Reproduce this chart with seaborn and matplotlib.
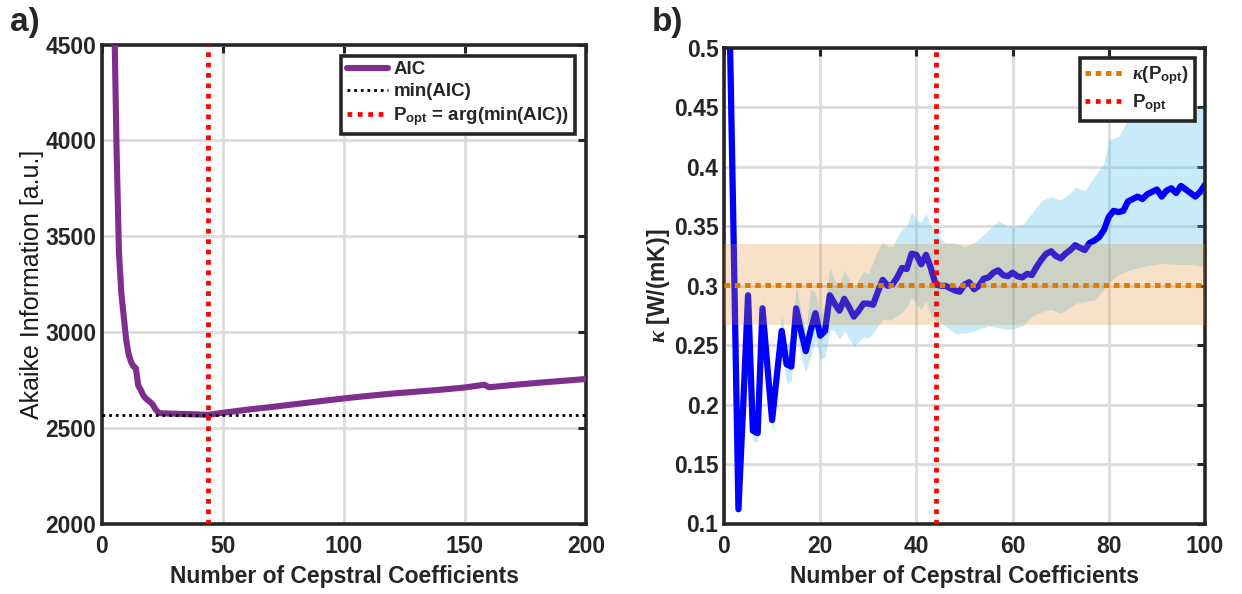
import numpy as np
import pandas as pd
import matplotlib
matplotlib.use("Agg")
import matplotlib.pyplot as plt
import seaborn as sns

# ---------------- data ----------------
aic_p = [5, 6, 7, 8, 9, 10, 11, 12, 13, 14, 15, 16, 17, 18, 19, 20, 21, 22, 23, 24,
         25, 30, 35, 40, 44, 50, 60, 70, 80, 90, 100, 110, 120, 130, 140, 150, 158,
         160, 170, 180, 190, 200]
aic_val = [4700, 3965, 3420, 3200, 3080, 2960, 2885, 2845, 2822, 2812, 2720, 2700,
           2672, 2656, 2645, 2635, 2622, 2600, 2585, 2578, 2577, 2575, 2573, 2571,
           2569, 2580, 2596, 2610, 2625, 2640, 2655, 2668, 2680, 2690, 2700, 2712,
           2726, 2713, 2725, 2736, 2746, 2756]

p_kappa = list(range(1, 101))
kappa = [0.560, 0.340, 0.112, 0.200, 0.292, 0.178, 0.176, 0.281, 0.233, 0.187,
         0.225, 0.262, 0.234, 0.232, 0.281, 0.262, 0.245, 0.262, 0.277, 0.258,
         0.262, 0.292, 0.285, 0.279, 0.289, 0.282, 0.274, 0.279, 0.285, 0.285,
         0.284, 0.295, 0.305, 0.300, 0.301, 0.307, 0.315, 0.314, 0.327, 0.326,
         0.318, 0.326, 0.315, 0.301, 0.300, 0.300, 0.298, 0.296, 0.295, 0.301,
         0.303, 0.297, 0.300, 0.306, 0.307, 0.311, 0.313, 0.309, 0.308, 0.311,
         0.308, 0.307, 0.310, 0.309, 0.316, 0.322, 0.327, 0.329, 0.325, 0.323,
         0.327, 0.330, 0.334, 0.332, 0.330, 0.336, 0.338, 0.341, 0.347, 0.358,
         0.363, 0.362, 0.363, 0.371, 0.373, 0.375, 0.373, 0.377, 0.379, 0.381,
         0.375, 0.380, 0.382, 0.378, 0.384, 0.381, 0.378, 0.375, 0.379, 0.385]

band_p = [3, 4, 5, 6, 7, 8, 10, 11, 12, 13, 14, 15, 16, 17, 18, 19, 20, 21, 22, 23,
          24, 25, 27, 29, 30, 31, 32, 33, 34, 35, 36, 37, 38, 39, 40, 41, 42, 43, 44,
          46, 48, 50, 52, 55, 57, 59, 62, 64, 66, 68, 70, 72, 73, 75, 77, 79, 80, 82,
          84, 87, 91, 94, 97, 100]
band_lo = [0.108, 0.195, 0.285, 0.170, 0.168, 0.272, 0.178, 0.215, 0.250, 0.218,
           0.220, 0.265, 0.240, 0.227, 0.240, 0.255, 0.238, 0.240, 0.263, 0.262,
           0.255, 0.262, 0.249, 0.257, 0.256, 0.260, 0.266, 0.272, 0.271, 0.272,
           0.275, 0.277, 0.282, 0.290, 0.285, 0.280, 0.288, 0.275, 0.271, 0.266,
           0.260, 0.260, 0.262, 0.266, 0.265, 0.263, 0.266, 0.274, 0.278, 0.280,
           0.277, 0.282, 0.285, 0.287, 0.288, 0.297, 0.303, 0.309, 0.313, 0.316,
           0.319, 0.318, 0.318, 0.316]
band_hi = [0.118, 0.205, 0.298, 0.185, 0.185, 0.290, 0.196, 0.240, 0.276, 0.250,
           0.255, 0.300, 0.280, 0.262, 0.297, 0.295, 0.275, 0.285, 0.315, 0.305,
           0.300, 0.313, 0.298, 0.312, 0.310, 0.320, 0.330, 0.337, 0.333, 0.333,
           0.341, 0.348, 0.350, 0.362, 0.355, 0.354, 0.361, 0.350, 0.345, 0.336,
           0.336, 0.333, 0.336, 0.347, 0.355, 0.350, 0.351, 0.361, 0.372, 0.375,
           0.372, 0.378, 0.383, 0.380, 0.392, 0.403, 0.423, 0.4255, 0.440, 0.440,
           0.442, 0.445, 0.446, 0.452]

kappa_opt = 0.301
kappa_opt_lo = 0.267
kappa_opt_hi = 0.335

# ---------------- style ----------------
sns.set_style("white")
plt.rcParams["font.family"] = ["Liberation Sans", "DejaVu Sans"]
plt.rcParams["font.weight"] = "bold"
plt.rcParams["axes.labelweight"] = "bold"
plt.rcParams["text.color"] = "#262626"
plt.rcParams["axes.labelcolor"] = "#262626"
plt.rcParams["xtick.color"] = "#262626"
plt.rcParams["ytick.color"] = "#262626"
plt.rcParams["mathtext.fontset"] = "custom"
plt.rcParams["mathtext.rm"] = "Liberation Sans:bold"
plt.rcParams["mathtext.bf"] = "Liberation Sans:bold"
plt.rcParams["mathtext.it"] = "Liberation Serif:italic"

TICK_FS = 16.5
LABEL_FS = 16.5
LEG_FS = 13.5
SPINE = "#262626"
GRID = "#dcdcdc"

fig = plt.figure(figsize=(12.42, 5.94), dpi=100)
ax1 = fig.add_axes([102 / 1242, 70 / 594, 484 / 1242, 479.5 / 594])
ax2 = fig.add_axes([724 / 1242, 70.5 / 594, 481 / 1242, 475.5 / 594])

def style_axes(ax):
    for s in ax.spines.values():
        s.set_linewidth(2.6)
        s.set_color(SPINE)
    ax.grid(True, color=GRID, linewidth=2)
    ax.set_axisbelow(True)
    ax.tick_params(direction="in", length=6, width=2.2, color=SPINE,
                   top=True, right=True, labelsize=TICK_FS)
    ax.tick_params(axis="x", pad=8)
    ax.tick_params(axis="y", pad=4)
    for lab in ax.get_xticklabels() + ax.get_yticklabels():
        lab.set_fontweight("bold")

# ---------------- panel a ----------------
df_aic = pd.DataFrame({"P": aic_p, "AIC": aic_val})
sns.lineplot(data=df_aic, x="P", y="AIC", ax=ax1, color="#7E2F8E", lw=4.4,
             label="AIC", legend=False, zorder=3)
aic_min = min(aic_val)
p_opt = aic_p[int(np.argmin(aic_val))]
h_min = ax1.axhline(aic_min, color="black", lw=2.0, ls=(0, (1, 1.4)),
                    dash_capstyle="butt", zorder=4, label="min(AIC)")
h_popt1 = ax1.axvline(p_opt, color="#ff0000", lw=3.4, ls=(0, (1, 1.2)),
                      dash_capstyle="butt", zorder=5,
                      label=r"P$_{\mathbf{opt}}$ = arg(min(AIC))")
ax1.set_xlim(0, 200)
ax1.set_ylim(2000, 4500)
ax1.set_xticks([0, 50, 100, 150, 200])
ax1.set_yticks([2000, 2500, 3000, 3500, 4000, 4500])
ax1.set_xlabel("Number of Cepstral Coefficients", fontsize=LABEL_FS,
               fontweight="bold", labelpad=5)
ax1.set_ylabel("Akaike Information [a.u.]", fontsize=18,
               fontweight="normal", labelpad=1, color="#1a1a1a")
style_axes(ax1)
h_aic = ax1.get_lines()[0]
leg1 = ax1.legend(handles=[h_aic, h_min, h_popt1], loc="upper right",
                  fontsize=LEG_FS, frameon=True, fancybox=False, framealpha=1,
                  edgecolor=SPINE, borderaxespad=0.6, handlelength=2.2,
                  handletextpad=0.3, labelspacing=0.25, borderpad=0.3,
                  prop={"weight": "bold", "size": LEG_FS})
leg1.get_frame().set_linewidth(2.6)

# ---------------- panel b ----------------
df_k = pd.DataFrame({"P": p_kappa, "kappa": kappa})
ax2.fill_between(band_p, band_lo, band_hi, color="#4DBEEE", alpha=0.3,
                 lw=0, zorder=1.5)
sns.lineplot(data=df_k, x="P", y="kappa", ax=ax2, color="#0000ff", lw=4.5,
             legend=False, zorder=2)
ax2.fill_between([0, 100], [kappa_opt_lo] * 2, [kappa_opt_hi] * 2,
                 color="#e08a2a", alpha=0.25, lw=0, zorder=3)
h_kopt = ax2.axhline(kappa_opt, color="#E07B00", lw=3.6, ls=(0, (1.1, 0.95)),
                     dash_capstyle="butt", zorder=4,
                     label=r"$\kappa$(P$_{\mathbf{opt}}$)")
h_popt2 = ax2.axvline(p_opt, color="#ff0000", lw=3.4, ls=(0, (1, 1.2)),
                      dash_capstyle="butt", zorder=5,
                      label=r"P$_{\mathbf{opt}}$")
ax2.set_xlim(0, 100)
ax2.set_ylim(0.1, 0.5)
ax2.set_xticks([0, 20, 40, 60, 80, 100])
ax2.set_yticks([0.1, 0.15, 0.2, 0.25, 0.3, 0.35, 0.4, 0.45, 0.5])
ax2.yaxis.set_major_formatter(matplotlib.ticker.FormatStrFormatter("%g"))
ax2.set_xlabel("Number of Cepstral Coefficients", fontsize=LABEL_FS,
               fontweight="bold", labelpad=5)
ax2.set_ylabel(r"$\kappa$ [W/(mK)]", fontsize=LABEL_FS, fontweight="bold",
               labelpad=1)
style_axes(ax2)
leg2 = ax2.legend(handles=[h_kopt, h_popt2], loc="upper right",
                  fontsize=LEG_FS, frameon=True, fancybox=False, framealpha=1,
                  edgecolor=SPINE, borderaxespad=0.55, handlelength=2.2,
                  handletextpad=0.3, labelspacing=0.3, borderpad=0.3,
                  prop={"weight": "bold", "size": LEG_FS})
leg2.get_frame().set_linewidth(2.6)

fig.text(10 / 1242, 1 - 22 / 594, "a)", fontsize=24, fontweight="bold",
         va="center", ha="left")
fig.text(652 / 1242, 1 - 22 / 594, "b)", fontsize=24, fontweight="bold",
         va="center", ha="left")

fig.savefig("out.png", dpi=100, facecolor="white")
